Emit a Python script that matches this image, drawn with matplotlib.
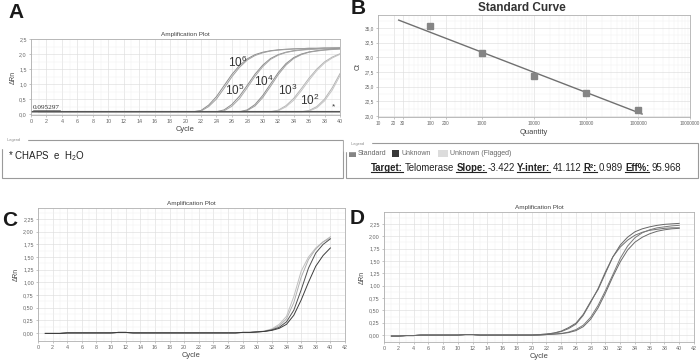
import math
import matplotlib
matplotlib.use('Agg')
import matplotlib.pyplot as plt
from matplotlib.ticker import MultipleLocator, FixedLocator, FuncFormatter, NullFormatter, LogLocator
from matplotlib.patches import Rectangle
from matplotlib.lines import Line2D

plt.rcParams['font.family'] = ['Liberation Sans', 'DejaVu Sans']
plt.rcParams['mathtext.fontset'] = 'custom'
plt.rcParams['mathtext.rm'] = 'Liberation Sans'
plt.rcParams['mathtext.it'] = 'Liberation Sans'
NARROW = ['Liberation Sans Narrow', 'Liberation Sans', 'DejaVu Sans']

# ---- data ----
cycles = list(range(1, 41))

# panel A: dilution series (two replicates each)
a_1e6_r1 = [0.07, 0.07, 0.07, 0.07, 0.07, 0.07, 0.07, 0.07, 0.07, 0.07,
            0.07, 0.07, 0.07, 0.07, 0.07, 0.07, 0.07, 0.07, 0.07, 0.07,
            0.08, 0.12, 0.30, 0.58, 0.95, 1.32, 1.62, 1.84, 1.98, 2.06,
            2.11, 2.14, 2.16, 2.17, 2.18, 2.19, 2.19, 2.20, 2.20, 2.20]
a_1e6_r2 = [0.07, 0.07, 0.07, 0.07, 0.07, 0.07, 0.07, 0.07, 0.07, 0.07,
            0.07, 0.07, 0.07, 0.07, 0.07, 0.07, 0.07, 0.07, 0.07, 0.07,
            0.08, 0.10, 0.25, 0.50, 0.86, 1.24, 1.56, 1.80, 1.95, 2.04,
            2.10, 2.13, 2.15, 2.17, 2.18, 2.19, 2.19, 2.20, 2.20, 2.21]
a_1e5_r1 = [0.07, 0.07, 0.07, 0.07, 0.07, 0.07, 0.07, 0.07, 0.07, 0.07,
            0.07, 0.07, 0.07, 0.07, 0.07, 0.07, 0.07, 0.07, 0.07, 0.07,
            0.07, 0.07, 0.07, 0.08, 0.14, 0.32, 0.60, 0.96, 1.33, 1.63,
            1.85, 1.98, 2.06, 2.11, 2.14, 2.16, 2.17, 2.18, 2.19, 2.19]
a_1e5_r2 = [0.07, 0.07, 0.07, 0.07, 0.07, 0.07, 0.07, 0.07, 0.07, 0.07,
            0.07, 0.07, 0.07, 0.07, 0.07, 0.07, 0.07, 0.07, 0.07, 0.07,
            0.07, 0.07, 0.07, 0.07, 0.11, 0.26, 0.52, 0.88, 1.26, 1.58,
            1.82, 1.96, 2.05, 2.10, 2.13, 2.15, 2.17, 2.18, 2.19, 2.19]
a_1e4_r1 = [0.07, 0.07, 0.07, 0.07, 0.07, 0.07, 0.07, 0.07, 0.07, 0.07,
            0.07, 0.07, 0.07, 0.07, 0.07, 0.07, 0.07, 0.07, 0.07, 0.07,
            0.07, 0.07, 0.07, 0.07, 0.07, 0.07, 0.08, 0.14, 0.32, 0.62,
            1.00, 1.38, 1.68, 1.88, 2.00, 2.07, 2.11, 2.14, 2.16, 2.17]
a_1e4_r2 = [0.07, 0.07, 0.07, 0.07, 0.07, 0.07, 0.07, 0.07, 0.07, 0.07,
            0.07, 0.07, 0.07, 0.07, 0.07, 0.07, 0.07, 0.07, 0.07, 0.07,
            0.07, 0.07, 0.07, 0.07, 0.07, 0.07, 0.07, 0.12, 0.27, 0.55,
            0.92, 1.31, 1.63, 1.85, 1.98, 2.06, 2.10, 2.13, 2.15, 2.17]
a_1e3_r1 = [0.07, 0.07, 0.07, 0.07, 0.07, 0.07, 0.07, 0.07, 0.07, 0.07,
            0.07, 0.07, 0.07, 0.07, 0.07, 0.07, 0.07, 0.07, 0.07, 0.07,
            0.07, 0.07, 0.07, 0.07, 0.07, 0.07, 0.07, 0.07, 0.07, 0.07,
            0.08, 0.13, 0.28, 0.52, 0.85, 1.20, 1.50, 1.74, 1.90, 2.01]
a_1e3_r2 = [0.07, 0.07, 0.07, 0.07, 0.07, 0.07, 0.07, 0.07, 0.07, 0.07,
            0.07, 0.07, 0.07, 0.07, 0.07, 0.07, 0.07, 0.07, 0.07, 0.07,
            0.07, 0.07, 0.07, 0.07, 0.07, 0.07, 0.07, 0.07, 0.07, 0.07,
            0.07, 0.11, 0.24, 0.46, 0.78, 1.13, 1.45, 1.70, 1.87, 1.99]
a_1e2_r1 = [0.07, 0.07, 0.07, 0.07, 0.07, 0.07, 0.07, 0.07, 0.07, 0.07,
            0.07, 0.07, 0.07, 0.07, 0.07, 0.07, 0.07, 0.07, 0.07, 0.07,
            0.07, 0.07, 0.07, 0.07, 0.07, 0.07, 0.07, 0.07, 0.07, 0.07,
            0.07, 0.07, 0.07, 0.07, 0.08, 0.12, 0.25, 0.50, 0.88, 1.35]
a_1e2_r2 = [0.07, 0.07, 0.07, 0.07, 0.07, 0.07, 0.07, 0.07, 0.07, 0.07,
            0.07, 0.07, 0.07, 0.07, 0.07, 0.07, 0.07, 0.07, 0.07, 0.07,
            0.07, 0.07, 0.07, 0.07, 0.07, 0.07, 0.07, 0.07, 0.07, 0.07,
            0.07, 0.07, 0.07, 0.07, 0.07, 0.10, 0.21, 0.44, 0.80, 1.28]
a_threshold = 0.095297
a_labels = ['6', '5', '4', '3', '2']
a_label_x = [26.8, 26.4, 30.1, 33.2, 36.1]
a_label_y = [1.72, 0.78, 1.08, 0.78, 0.44]

# panel B: standard curve
b_qty = [100, 1000, 10000, 100000, 1000000]
b_ct = [35.3, 30.8, 26.8, 23.9, 21.0]
b_slope = -3.422
b_inter = 41.112
b_r2 = '0.989'
b_eff = '95.968'
b_line_qty = [25, 1200000]
b_xticks = [10, 20, 30, 100, 200, 1000, 10000, 100000, 1000000, 10000000]

# panel C
c_light1 = [-0.01, -0.01, -0.01, 0.00, 0.00, 0.00, 0.00, 0.00, 0.00, 0.00,
            0.01, 0.01, 0.00, 0.00, 0.00, 0.00, 0.00, 0.00, 0.00, 0.00,
            0.00, 0.00, 0.00, 0.00, 0.00, 0.00, 0.00, 0.01, 0.01, 0.02,
            0.04, 0.08, 0.17, 0.33, 0.72, 1.22, 1.50, 1.68, 1.80, 1.87]
c_light2 = [-0.01, -0.01, -0.01, 0.00, 0.00, 0.00, 0.00, 0.00, 0.00, 0.00,
            0.01, 0.01, 0.00, 0.00, 0.00, 0.00, 0.00, 0.00, 0.00, 0.00,
            0.00, 0.00, 0.00, 0.00, 0.00, 0.00, 0.00, 0.01, 0.01, 0.02,
            0.03, 0.07, 0.14, 0.28, 0.60, 1.10, 1.45, 1.66, 1.80, 1.90]
c_dark1 = [-0.01, -0.01, -0.01, 0.00, 0.00, 0.00, 0.00, 0.00, 0.00, 0.00,
           0.01, 0.01, 0.00, 0.00, 0.00, 0.00, 0.00, 0.00, 0.00, 0.00,
           0.00, 0.00, 0.00, 0.00, 0.00, 0.00, 0.00, 0.01, 0.01, 0.02,
           0.03, 0.06, 0.11, 0.22, 0.45, 0.85, 1.28, 1.58, 1.75, 1.86]
c_dark2 = [-0.01, -0.01, -0.01, 0.00, 0.00, 0.00, 0.00, 0.00, 0.00, 0.00,
           0.01, 0.01, 0.00, 0.00, 0.00, 0.00, 0.00, 0.00, 0.00, 0.00,
           0.00, 0.00, 0.00, 0.00, 0.00, 0.00, 0.00, 0.01, 0.01, 0.02,
           0.03, 0.05, 0.09, 0.17, 0.35, 0.65, 1.00, 1.32, 1.53, 1.68]

# panel D
d_left1 = [-0.02, -0.02, -0.01, -0.01, 0.00, 0.00, 0.00, 0.00, 0.00, 0.00,
           0.01, 0.01, 0.00, 0.00, 0.00, 0.00, 0.00, 0.00, 0.00, 0.00,
           0.01, 0.02, 0.04, 0.08, 0.15, 0.24, 0.42, 0.68, 0.92, 1.25,
           1.58, 1.82, 1.98, 2.09, 2.15, 2.19, 2.22, 2.24, 2.25, 2.26]
d_left2 = [-0.02, -0.02, -0.01, -0.01, 0.00, 0.00, 0.00, 0.00, 0.00, 0.00,
           0.01, 0.01, 0.00, 0.00, 0.00, 0.00, 0.00, 0.00, 0.00, 0.00,
           0.01, 0.02, 0.04, 0.07, 0.13, 0.22, 0.40, 0.66, 0.94, 1.28,
           1.58, 1.78, 1.92, 2.02, 2.08, 2.12, 2.14, 2.16, 2.17, 2.17]
d_right1 = [-0.02, -0.02, -0.01, -0.01, 0.00, 0.00, 0.00, 0.00, 0.00, 0.00,
            0.01, 0.01, 0.00, 0.00, 0.00, 0.00, 0.00, 0.00, 0.00, 0.00,
            0.00, 0.01, 0.02, 0.03, 0.06, 0.11, 0.20, 0.36, 0.60, 0.90,
            1.22, 1.55, 1.80, 1.97, 2.07, 2.13, 2.17, 2.19, 2.21, 2.22]
d_right2 = [-0.02, -0.02, -0.01, -0.01, 0.00, 0.00, 0.00, 0.00, 0.00, 0.00,
            0.01, 0.01, 0.00, 0.00, 0.00, 0.00, 0.00, 0.00, 0.00, 0.00,
            0.00, 0.01, 0.02, 0.03, 0.05, 0.09, 0.17, 0.32, 0.55, 0.85,
            1.18, 1.48, 1.72, 1.88, 1.98, 2.05, 2.10, 2.13, 2.15, 2.16]

W, H = 700, 362
fig = plt.figure(figsize=(7, 3.62), dpi=100)


def px_box(x0, y0, x1, y1):
    return [x0 / W, 1 - y1 / H, (x1 - x0) / W, (y1 - y0) / H]


def comma(fmt):
    return FuncFormatter(lambda v, p: (fmt % v).replace('.', ','))


def style_axes(ax, title):
    for s in ax.spines.values():
        s.set_color('#b0b0b0')
        s.set_linewidth(0.6)
    ax.tick_params(which='both', labelsize=3.9, length=1.5, width=0.4,
                   color='#999999', labelcolor='#666666', pad=1.5)
    ax.tick_params(which='minor', length=0)
    ax.grid(True, which='major', color='#dedede', lw=0.45)
    ax.grid(True, which='minor', color='#efefef', lw=0.35)
    ax.set_axisbelow(True)
    ax.set_title(title, fontsize=4.6, color='#444444', pad=2.5)


def amp_axes(box, ylim, ystep, yfmt, xmax, xstep):
    ax = fig.add_axes(px_box(*box))
    ax.xaxis.set_major_locator(MultipleLocator(xstep))
    ax.xaxis.set_minor_locator(MultipleLocator(1))
    ax.yaxis.set_major_locator(MultipleLocator(ystep))
    ax.yaxis.set_minor_locator(MultipleLocator(ystep / 2))
    ax.yaxis.set_major_formatter(comma(yfmt))
    ax.set_ylim(*ylim)
    ax.set_xlim(0, xmax)
    ax.set_xlabel('Cycle', fontsize=5.4, color='#444444', labelpad=1.5)
    ax.set_ylabel('ΔRn', fontsize=4.8, color='#444444', labelpad=2)
    style_axes(ax, 'Amplification Plot')
    return ax


def legend_box(x0, y0, x1, y1):
    fig.patches.append(Rectangle((x0 / W, 1 - y1 / H), (x1 - x0) / W, (y1 - y0) / H,
                                 transform=fig.transFigure, fill=False,
                                 edgecolor='#9a9a9a', lw=0.8))
    fig.text((x0 + 4) / W, 1 - (y0 + 0.5) / H, ' Legend ', fontsize=2.8, color='#888888',
             va='center', ha='left', backgroundcolor='white')


def panel_letter(x, y, s):
    fig.text(x / W, 1 - y / H, s, fontsize=15, fontweight='bold', color='#1a1a1a',
             ha='center', va='center', family=['Liberation Sans', 'DejaVu Sans'])


# ---- A ----
axA = amp_axes((31, 39, 340, 115), (-0.03, 2.5), 0.5, '%.1f', 40, 2)
a_curves = [(a_1e6_r1, '#8c8c8c'), (a_1e6_r2, '#a0a0a0'),
            (a_1e5_r1, '#8c8c8c'), (a_1e5_r2, '#a8a8a8'),
            (a_1e4_r1, '#8c8c8c'), (a_1e4_r2, '#a0a0a0'),
            (a_1e3_r1, '#b4b4b4'), (a_1e3_r2, '#c4c4c4'),
            (a_1e2_r1, '#b4b4b4'), (a_1e2_r2, '#c4c4c4')]
for vals, col in a_curves:
    axA.plot(cycles, vals, color=col, lw=0.7)
axA.axhline(0.06, color='#9a9a9a', lw=1.2)
axA.axhline(a_threshold, color='#555555', lw=0.8)
axA.text(0.2, a_threshold + 0.03, '0.095297', fontsize=5.2, color='#333333',
         family=['Liberation Serif', 'DejaVu Serif'], va='bottom', ha='left')
axA.plot([0.2, 3.8], [a_threshold + 0.04, a_threshold + 0.04], color='#333333', lw=0.4)
for lab, lx, ly in zip(a_labels, a_label_x, a_label_y):
    axA.text(lx, ly, r'$10^{%s}$' % lab, fontsize=8.5, color='#333333', ha='center', va='center')
axA.text(39.2, 0.25, '*', fontsize=6, color='#333333', ha='center', va='center')
panel_letter(16, 12, 'A')

legend_box(2, 140, 343, 178)
fig.text(8 / W, 1 - 156 / H, r'* CHAPS  e  H$_2$O', fontsize=7.0, color='#222222',
         va='center', ha='left')

# ---- B ----
axB = fig.add_axes(px_box(378, 15, 690, 117))
axB.set_xscale('log')
axB.set_xlim(10, 10000000)
axB.set_ylim(19.8, 37.2)
axB.xaxis.set_major_locator(FixedLocator(b_xticks))
axB.xaxis.set_major_formatter(FuncFormatter(lambda v, p: '%d' % round(v)))
axB.xaxis.set_minor_locator(LogLocator(base=10, subs=range(2, 10), numticks=20))
axB.xaxis.set_minor_formatter(NullFormatter())
axB.yaxis.set_major_locator(MultipleLocator(2.5))
axB.yaxis.set_minor_locator(MultipleLocator(1.25))
axB.yaxis.set_major_formatter(comma('%.1f'))
style_axes(axB, '')
axB.tick_params(which='major', labelsize=3.4)
b_line_ct = [b_inter + b_slope * math.log10(q) for q in b_line_qty]
axB.plot(b_line_qty, b_line_ct, color='#707070', lw=1.0)
axB.plot(b_qty, b_ct, 's', color='#858585', ms=4.6, mec='#858585')
axB.set_xlabel('Quantity', fontsize=5.4, color='#444444', labelpad=2)
axB.set_ylabel('Ct', fontsize=5, color='#444444', labelpad=2)
fig.text(522 / W, 1 - 8 / H, 'Standard Curve', fontsize=8.5, fontweight='bold',
         color='#333333', ha='center', va='center')
panel_letter(358, 9, 'B')

legend_box(346, 143, 698, 178)
b_leg = [('Standard', '#858585'), ('Unknown', '#383838'), ('Unknown (Flagged)', '#dcdcdc')]
b_leg_sq = [(349, 7), (392, 7), (438, 10)]
b_leg_tx = [358, 401, 450]
for (name, col), (sx, sw), tx in zip(b_leg, b_leg_sq, b_leg_tx):
    fig.patches.append(Rectangle((sx / W, 1 - 157 / H), sw / W, 7 / H,
                                 transform=fig.transFigure, color=col, lw=0))
    fig.text(tx / W, 1 - 153.5 / H, name, fontsize=5, color='#666666',
             va='center', ha='left', family=NARROW)

runs = [('Target:', True), ('Telomerase', False), ('Slope:', True),
        ('%.3f' % b_slope, False), ('Y-inter:', True), ('%.3f' % b_inter, False),
        ('R²:', True), (b_r2, False), ('Eff%:', True), (b_eff, False)]
renderer = fig.canvas.get_renderer()


def draw_runs(size, x0, base_y):
    x = x0
    made = []
    gap = 0.22 * size * 100 / 72
    for s, bold in runs:
        t = fig.text(x / W, 1 - base_y / H, s, fontsize=size, va='baseline', ha='left',
                     fontweight='bold' if bold else 'normal', color='#222222', family=NARROW)
        bb = t.get_window_extent(renderer=renderer)
        made.append((t, bb, bold))
        x += bb.width + gap
    return made, x - gap - x0


made, tot = draw_runs(8.0, 371, 171)
for t, bb, b in made:
    t.remove()
size = 8.0 * 312 / tot
made, tot = draw_runs(size, 371, 171)
for t, bb, bold in made:
    if bold:
        yl = 1 - (171 + 1.4) / H
        fig.lines.append(Line2D([bb.x0 / W, bb.x1 / W], [yl, yl], transform=fig.transFigure,
                                color='#222222', lw=0.8))

# ---- C ----
axC = amp_axes((38, 208, 345, 341), (-0.16, 2.47), 0.25, '%.2f', 42, 2)
for vals, col in [(c_light1, '#c0c0c0'), (c_light2, '#b0b0b0'),
                  (c_dark1, '#505050'), (c_dark2, '#3c3c3c')]:
    axC.plot(cycles, vals, color=col, lw=0.7)
panel_letter(10, 220, 'C')

# ---- D ----
axD = amp_axes((384, 212, 694, 342), (-0.14, 2.49), 0.25, '%.2f', 42, 2)
for vals, col in [(d_left1, '#666666'), (d_left2, '#707070'),
                  (d_right1, '#7a7a7a'), (d_right2, '#6a6a6a')]:
    axD.plot(cycles, vals, color=col, lw=0.7)
panel_letter(357, 218, 'D')

fig.savefig('out.png', dpi=100)
